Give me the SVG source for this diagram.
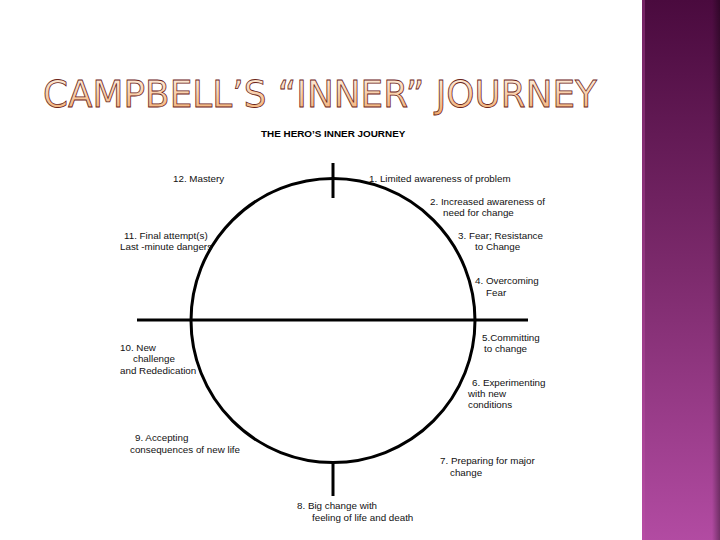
<svg xmlns="http://www.w3.org/2000/svg" width="720" height="540" viewBox="0 0 720 540">
<defs>
<linearGradient id="bar" x1="0" y1="0" x2="0" y2="1">
<stop offset="0" stop-color="#4a0a3e"/>
<stop offset="0.5" stop-color="#7c2a6c"/>
<stop offset="1" stop-color="#b24ba2"/>
</linearGradient>
<linearGradient id="titleFill" x1="0" y1="0" x2="0" y2="1">
<stop offset="0" stop-color="#fff4e8"/>
<stop offset="1" stop-color="#f2a868"/>
</linearGradient>
<linearGradient id="edge" x1="0" y1="0" x2="1" y2="0">
<stop offset="0" stop-color="#000" stop-opacity="0"/>
<stop offset="1" stop-color="#000" stop-opacity="0.35"/>
</linearGradient>
<style>
.lbl{font-family:"Liberation Sans",Arial,sans-serif;font-size:9.8px;fill:#111}
.hd{font-family:"Liberation Sans",Arial,sans-serif;font-size:9.9px;font-weight:bold;fill:#000}
.ttl{font-family:"DejaVu Sans","Liberation Sans",sans-serif;font-size:37px;fill:url(#titleFill);stroke:#6b2418;stroke-width:0.8}
.ln{stroke:#000;stroke-width:3;fill:none}
</style>
</defs>
<rect width="720" height="540" fill="#ffffff"/>
<rect x="642" y="0" width="78" height="540" fill="url(#bar)"/>
<rect x="642" y="0" width="3" height="540" fill="#c050a8" opacity="0.35"/>
<rect x="712" y="0" width="8" height="540" fill="url(#edge)"/>
<text class="ttl" x="43" y="107" textLength="554" lengthAdjust="spacingAndGlyphs">CAMPBELL’S “INNER” JOURNEY</text>
<text class="hd" x="261" y="137">THE HERO’S INNER JOURNEY</text>
<g id="connectors">
<circle class="ln" cx="333" cy="320.5" r="142" stroke-width="2.5"/>
<line class="ln" x1="137" y1="320" x2="528" y2="320"/>
<line class="ln" x1="333" y1="163" x2="333" y2="198"/>
<line class="ln" x1="333" y1="462" x2="333" y2="496"/>
</g>
<g id="n12"><text class="lbl" x="173" y="182">12.  Mastery</text></g>
<g id="n1"><text class="lbl" x="369" y="182">1. Limited awareness of problem</text></g>
<g id="n2"><text class="lbl" x="430" y="205">2. Increased awareness of</text><text class="lbl" x="443" y="216">need for change</text></g>
<g id="n11"><text class="lbl" x="124" y="239">11. Final attempt(s)</text><text class="lbl" x="120" y="250">Last -minute dangers</text></g>
<g id="n3"><text class="lbl" x="458" y="239">3. Fear; Resistance</text><text class="lbl" x="475" y="250">to Change</text></g>
<g id="n4"><text class="lbl" x="475" y="284">4. Overcoming</text><text class="lbl" x="486" y="296">Fear</text></g>
<g id="n5"><text class="lbl" x="482" y="341">5.Committing</text><text class="lbl" x="484" y="352">to change</text></g>
<g id="n10"><text class="lbl" x="120" y="351">10. New</text><text class="lbl" x="133" y="362">challenge</text><text class="lbl" x="120" y="374">and Rededication</text></g>
<g id="n6"><text class="lbl" x="472" y="386">6. Experimenting</text><text class="lbl" x="468" y="397">with new</text><text class="lbl" x="468" y="408">conditions</text></g>
<g id="n9"><text class="lbl" x="135" y="441">9. Accepting</text><text class="lbl" x="130" y="453">consequences of new life</text></g>
<g id="n7"><text class="lbl" x="440" y="464">7. Preparing for major</text><text class="lbl" x="450" y="476">change</text></g>
<g id="n8"><text class="lbl" x="297" y="509">8. Big change with</text><text class="lbl" x="312" y="521">feeling of life and death</text></g>
</svg>
